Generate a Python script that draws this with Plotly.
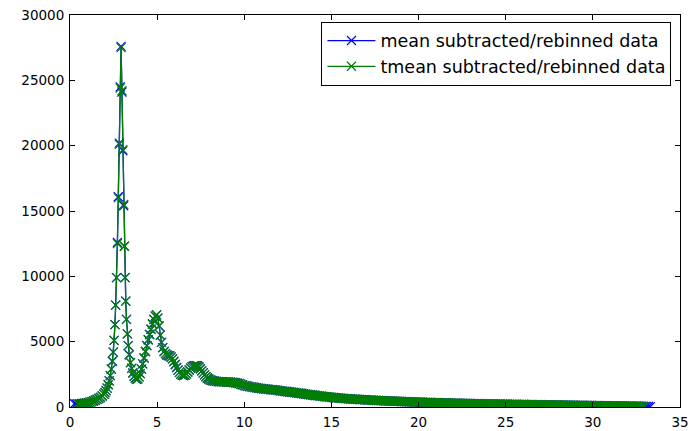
import plotly.graph_objects as go

# ---------------- data ----------------
# sample grid, low-q part (shared by both series)
grid_x_low = [
    0.45, 0.55, 0.65, 0.75, 0.85, 0.95, 1.05, 1.15, 1.25, 1.35, 1.45, 1.55, 1.65, 1.75, 1.85,
    1.95, 2.01, 2.07, 2.13, 2.19, 2.25, 2.31, 2.37, 2.43, 2.48, 2.53, 2.58, 2.62, 2.67, 2.72,
    2.77, 2.83, 2.88, 2.93, 2.98, 3.03, 3.08, 3.12, 3.16, 3.20, 3.24, 3.29, 3.34, 3.40, 3.47,
    3.54, 3.61, 3.68, 3.75, 3.82, 3.89, 3.96, 4.03, 4.10, 4.17, 4.25, 4.33, 4.41, 4.49, 4.57,
    4.65, 4.73, 4.81, 4.89, 4.97, 5.04, 5.11, 5.18, 5.25, 5.32, 5.40, 5.48, 5.56, 5.64, 5.72,
    5.80, 5.88, 5.96, 6.04, 6.12, 6.20, 6.28, 6.36, 6.44, 6.52, 6.60, 6.68, 6.76, 6.84, 6.92,
    7.00, 7.08, 7.16, 7.24, 7.32, 7.40, 7.48, 7.56, 7.64, 7.72, 7.80, 7.88, 7.96, 8.04, 8.12,
    8.20, 8.30, 8.40, 8.50, 8.60, 8.70, 8.80, 8.90, 9.00, 9.10, 9.20, 9.30, 9.40, 9.50, 9.60,
    9.70, 9.80, 9.90,
]
# sample grid, tail part (shared by both series)
grid_x_tail = [
    10.0, 10.1, 10.2, 10.3, 10.4, 10.5, 10.6, 10.7, 10.8, 10.9,
    11.0, 11.1, 11.2, 11.3, 11.4, 11.5, 11.6, 11.7, 11.8, 11.9,
    12.0, 12.1, 12.2, 12.3, 12.4, 12.5, 12.6, 12.7, 12.8, 12.9,
    13.0, 13.1, 13.2, 13.3, 13.4, 13.5, 13.6, 13.7, 13.8, 13.9,
    14.0, 14.1, 14.2, 14.3, 14.4, 14.5, 14.6, 14.7, 14.8, 14.9,
    15.0, 15.1, 15.2, 15.3, 15.4, 15.5, 15.6, 15.7, 15.8, 15.9,
    16.0, 16.1, 16.2, 16.3, 16.4, 16.5, 16.6, 16.7, 16.8, 16.9,
    17.0, 17.1, 17.2, 17.3, 17.4, 17.5, 17.6, 17.7, 17.8, 17.9,
    18.0, 18.1, 18.2, 18.3, 18.4, 18.5, 18.6, 18.7, 18.8, 18.9,
    19.0, 19.1, 19.2, 19.3, 19.4, 19.5, 19.6, 19.7, 19.8, 19.9,
    20.0, 20.1, 20.2, 20.3, 20.4, 20.5, 20.6, 20.7, 20.8, 20.9,
    21.0, 21.1, 21.2, 21.3, 21.4, 21.5, 21.6, 21.7, 21.8, 21.9,
    22.0, 22.1, 22.2, 22.3, 22.4, 22.5, 22.6, 22.7, 22.8, 22.9,
    23.0, 23.1, 23.2, 23.3, 23.4, 23.5, 23.6, 23.7, 23.8, 23.9,
    24.0, 24.1, 24.2, 24.3, 24.4, 24.5, 24.6, 24.7, 24.8, 24.9,
    25.0, 25.1, 25.2, 25.3, 25.4, 25.5, 25.6, 25.7, 25.8, 25.9,
    26.0, 26.1, 26.2, 26.3, 26.4, 26.5, 26.6, 26.7, 26.8, 26.9,
    27.0, 27.1, 27.2, 27.3, 27.4, 27.5, 27.6, 27.7, 27.8, 27.9,
    28.0, 28.1, 28.2, 28.3, 28.4, 28.5, 28.6, 28.7, 28.8, 28.9,
    29.0, 29.1, 29.2, 29.3, 29.4, 29.5, 29.6, 29.7, 29.8, 29.9,
    30.0, 30.1, 30.2, 30.3, 30.4, 30.5, 30.6, 30.7, 30.8, 30.9,
    31.0, 31.1, 31.2, 31.3, 31.4, 31.5, 31.6, 31.7, 31.8, 31.9,
    32.0, 32.1, 32.2, 32.3, 32.4, 32.5, 32.6, 32.7, 32.8, 32.9,
    33.0,
]

# tmean subtracted/rebinned data
tmean_y_low = [
    240, 245, 255, 265, 285, 310, 340, 375, 415, 460, 515, 580, 650, 730, 840,
    980, 1100, 1250, 1450, 1700, 2000, 2400, 2900, 3500, 4200, 5100, 6300, 7800, 9900, 12500,
    16000, 20100, 24400, 27500, 24200, 19700, 15500, 12300, 9900, 8100, 6700, 5600, 4700, 4000, 3400,
    2950, 2600, 2350, 2200, 2120, 2150, 2300, 2550, 2900, 3300, 3750, 4250, 4700, 5150, 5550,
    5950, 6350, 6700, 6950, 7050, 6800, 6200, 5500, 4950, 4550, 4250, 4080, 3980, 3930, 3900,
    3820, 3680, 3480, 3250, 3020, 2820, 2650, 2520, 2440, 2410, 2440, 2540, 2680, 2830, 2970,
    3070, 3130, 3160, 3170, 3140, 3060, 2930, 2770, 2610, 2460, 2330, 2220, 2140, 2080, 2040,
    2010, 1980, 1960, 1945, 1935, 1930, 1925, 1920, 1915, 1910, 1900, 1890, 1875, 1855, 1825,
    1785, 1740, 1690,
]
tmean_y_tail = [
    1640, 1615, 1590, 1565, 1540, 1515, 1490, 1470, 1450, 1430,
    1410, 1395, 1380, 1365, 1350, 1335, 1320, 1305, 1290, 1270,
    1250, 1235, 1220, 1200, 1185, 1168, 1150, 1132, 1115, 1098,
    1080, 1065, 1050, 1030, 1010, 990, 970, 952, 935, 918,
    900, 882, 865, 848, 830, 815, 800, 785, 770, 755,
    740, 728, 715, 702, 690, 678, 665, 655, 645, 635,
    625, 615, 605, 598, 590, 582, 575, 568, 560, 552,
    545, 538, 530, 522, 515, 508, 500, 495, 490, 485,
    480, 474, 468, 462, 456, 450, 444, 438, 432, 426,
    420, 415, 410, 405, 400, 395, 390, 385, 380, 375,
    370, 366, 362, 358, 354, 350, 346, 342, 338, 334,
    330, 326, 322, 318, 315, 311, 308, 304, 301, 297,
    294, 291, 288, 285, 282, 279, 276, 273, 270, 267,
    264, 261, 258, 255, 252, 249, 246, 243, 240, 237,
    235, 232, 230, 227, 225, 222, 220, 218, 216, 214,
    212, 209, 207, 204, 202, 200, 198, 196, 194, 192,
    190, 188, 186, 184, 182, 180, 178, 176, 174, 172,
    170, 168, 166, 164, 162, 160, 158, 156, 154, 152,
    150, 148, 146, 144, 142, 140, 138, 136, 134, 132,
    130, 128, 126, 124, 122, 120, 118, 116, 114, 112,
    110, 107, 105, 102, 100, 98, 96, 94, 92, 90,
    88, 86, 84, 82, 80, 78, 76, 74, 72, 70,
    68, 66, 64, 62, 60, 58, 56, 54, 52, 50,
    48,
]

# mean subtracted/rebinned data (starts a little earlier, ends a little later)
mean_head_x = [0.25, 0.35]
mean_head_y = [250, 245]
mean_y_low = [
    240, 245, 255, 265, 285, 310, 340, 375, 415, 460, 515, 580, 650, 730, 840,
    980, 1100, 1250, 1450, 1700, 2000, 2400, 2900, 3500, 4200, 5100, 6300, 7800, 9900, 12600,
    16100, 20200, 24500, 27600, 24100, 19600, 15400, 12300, 9900, 8100, 6700, 5600, 4700, 4000, 3400,
    2950, 2600, 2350, 2200, 2120, 2150, 2300, 2550, 2900, 3300, 3750, 4250, 4700, 5150, 5550,
    5950, 6350, 6700, 6950, 7050, 6800, 6200, 5500, 4950, 4550, 4250, 4080, 3980, 3930, 3900,
    3820, 3680, 3480, 3250, 3020, 2820, 2650, 2520, 2440, 2410, 2440, 2540, 2680, 2830, 2970,
    3070, 3130, 3160, 3170, 3140, 3060, 2930, 2770, 2610, 2460, 2330, 2220, 2140, 2080, 2040,
    2010, 1980, 1960, 1945, 1935, 1930, 1925, 1920, 1915, 1910, 1900, 1890, 1875, 1855, 1825,
    1785, 1740, 1690,
]
mean_y_tail = [
    1640, 1615, 1590, 1565, 1540, 1515, 1490, 1470, 1450, 1430,
    1410, 1395, 1380, 1365, 1350, 1335, 1320, 1305, 1290, 1270,
    1250, 1235, 1220, 1200, 1185, 1168, 1150, 1132, 1115, 1098,
    1080, 1065, 1050, 1030, 1010, 990, 970, 952, 935, 918,
    900, 882, 865, 848, 830, 815, 800, 785, 770, 755,
    740, 728, 715, 702, 690, 678, 665, 655, 645, 635,
    625, 615, 605, 598, 590, 582, 575, 568, 560, 552,
    545, 538, 530, 522, 515, 508, 500, 495, 490, 485,
    480, 474, 468, 462, 456, 450, 444, 438, 432, 426,
    420, 415, 410, 405, 400, 395, 390, 385, 380, 375,
    370, 366, 362, 358, 354, 350, 346, 342, 338, 334,
    330, 326, 322, 318, 315, 311, 308, 304, 301, 297,
    294, 291, 288, 285, 282, 279, 276, 273, 270, 267,
    264, 261, 258, 255, 252, 249, 246, 243, 240, 237,
    235, 232, 230, 227, 225, 222, 220, 218, 216, 214,
    212, 209, 207, 204, 202, 200, 198, 196, 194, 192,
    190, 188, 186, 184, 182, 180, 178, 176, 174, 172,
    170, 168, 166, 164, 162, 160, 158, 156, 154, 152,
    150, 148, 146, 144, 142, 140, 138, 136, 134, 132,
    130, 128, 126, 124, 122, 120, 118, 116, 114, 112,
    110, 107, 105, 102, 100, 98, 96, 94, 92, 90,
    88, 86, 84, 82, 80, 78, 76, 74, 72, 70,
    68, 66, 64, 62, 60, 58, 56, 54, 52, 50,
    48,
]
mean_end_x = [33.1, 33.2, 33.3]
mean_end_y = [44, 38, 30]

x_ticks = [0, 5, 10, 15, 20, 25, 30, 35]
y_ticks = [0, 5000, 10000, 15000, 20000, 25000, 30000]

series_names = ["mean subtracted/rebinned data", "tmean subtracted/rebinned data"]
series_colors = ["#0000ff", "#008000"]

# ---------------- figure ----------------
mean_x = mean_head_x + grid_x_low + grid_x_tail + mean_end_x
mean_y = mean_head_y + mean_y_low + mean_y_tail + mean_end_y
tmean_x = grid_x_low + grid_x_tail
tmean_y = tmean_y_low + tmean_y_tail

fig = go.Figure()
for name, xs, ys, col, grp in [
    (series_names[0], mean_x, mean_y, series_colors[0], "a"),
    (series_names[1], tmean_x, tmean_y, series_colors[1], "b"),
]:
    fig.add_trace(go.Scatter(
        x=xs, y=ys, name=name, mode="lines+markers", legendgroup=grp,
        line=dict(color=col, width=1.3),
        marker=dict(symbol="x-thin", size=9, color=col, line=dict(color=col, width=1.2)),
    ))

font_family = "DejaVu Sans, Liberation Sans, sans-serif"
axis_common = dict(
    showgrid=False, zeroline=False, showline=True, linecolor="black", linewidth=1,
    mirror="ticks", ticks="inside", ticklen=5, tickwidth=1, tickcolor="black",
    tickfont=dict(family=font_family, size=13.5, color="black"),
    automargin=False,
)
fig.update_xaxes(range=[0, 35], tickvals=x_ticks, ticktext=[str(v) for v in x_ticks],
                 ticklabelstandoff=3, **axis_common)
fig.update_yaxes(range=[0, 30000], tickvals=y_ticks, ticktext=[str(v) for v in y_ticks],
                 ticklabelstandoff=2, **axis_common)

fig.update_layout(
    width=693, height=431,
    margin=dict(l=70, r=13, t=15, b=24),
    paper_bgcolor="white", plot_bgcolor="white",
    font=dict(family=font_family, size=13.5, color="black"),
    showlegend=True,
    legend=dict(
        x=0.986, y=0.983, xanchor="right", yanchor="top",
        bgcolor="white", bordercolor="black", borderwidth=1,
        font=dict(family=font_family, size=17.5, color="black"),
        tracegroupgap=0, itemwidth=48,
    ),
)

fig.write_html("out.html")
